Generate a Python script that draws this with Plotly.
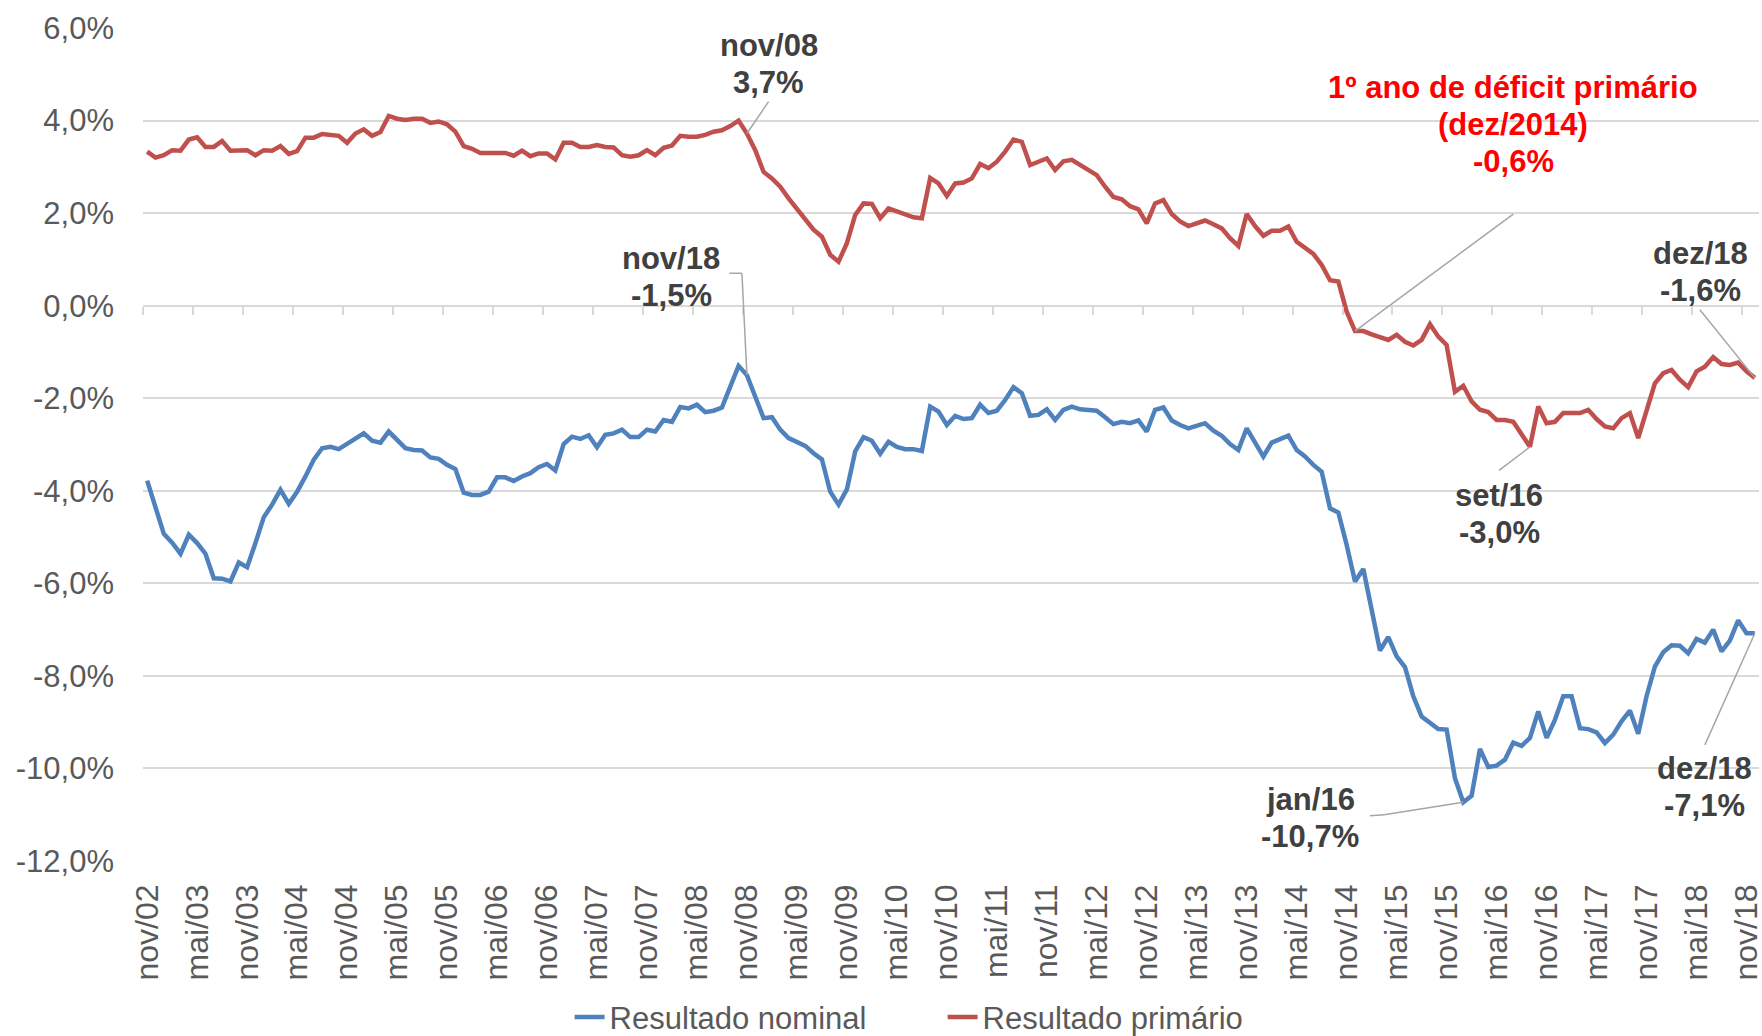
import plotly.graph_objects as go

# ---------------- data ----------------
MESES = ["jan", "fev", "mar", "abr", "mai", "jun", "jul", "ago", "set", "out", "nov", "dez"]
N_MONTHS = 194  # nov/2002 .. dez/2018
categorias = [f"{MESES[(10 + i) % 12]}/{(2002 + (10 + i) // 12) % 100:02d}" for i in range(N_MONTHS)]

resultado_nominal = [
    -3.78, -4.38, -4.93, -5.12, -5.36, -4.95, -5.13, -5.36, -5.89, -5.90,
    -5.96, -5.55, -5.65, -5.13, -4.57, -4.30, -3.98, -4.28, -4.02, -3.69,
    -3.33, -3.08, -3.05, -3.10, -2.99, -2.86, -2.76, -2.92, -2.96, -2.72,
    -2.89, -3.08, -3.12, -3.13, -3.28, -3.31, -3.44, -3.53, -4.04, -4.09,
    -4.09, -4.02, -3.71, -3.71, -3.79, -3.69, -3.62, -3.49, -3.42, -3.56,
    -2.99, -2.83, -2.88, -2.80, -3.06, -2.79, -2.76, -2.68, -2.84, -2.84,
    -2.68, -2.72, -2.47, -2.51, -2.19, -2.22, -2.14, -2.30, -2.27, -2.20,
    -1.75, -1.30, -1.50, -1.97, -2.43, -2.41, -2.68, -2.86, -2.94, -3.03,
    -3.19, -3.32, -4.02, -4.30, -3.97, -3.15, -2.84, -2.92, -3.20, -2.94,
    -3.05, -3.10, -3.10, -3.14, -2.18, -2.29, -2.58, -2.38, -2.45, -2.43,
    -2.14, -2.32, -2.27, -2.04, -1.76, -1.89, -2.38, -2.36, -2.24, -2.47,
    -2.25, -2.18, -2.24, -2.25, -2.27, -2.41, -2.56, -2.51, -2.54, -2.48,
    -2.72, -2.25, -2.20, -2.48, -2.58, -2.65, -2.59, -2.54, -2.70, -2.81,
    -2.99, -3.12, -2.65, -2.97, -3.26, -2.96, -2.89, -2.81, -3.12, -3.26,
    -3.44, -3.59, -4.38, -4.47, -5.17, -5.96, -5.69, -6.57, -7.45, -7.16,
    -7.58, -7.81, -8.44, -8.88, -9.01, -9.15, -9.16, -10.21, -10.73, -10.59,
    -9.58, -9.97, -9.94, -9.81, -9.44, -9.51, -9.34, -8.77, -9.34, -8.95,
    -8.44, -8.44, -9.13, -9.15, -9.22, -9.45, -9.27, -8.98, -8.75, -9.25,
    -8.44, -7.80, -7.49, -7.34, -7.35, -7.51, -7.20, -7.28, -7.00, -7.47,
    -7.24, -6.80, -7.08, -7.08,
]

resultado_primario = [
    3.33, 3.20, 3.25, 3.36, 3.35, 3.59, 3.64, 3.43, 3.43, 3.56,
    3.35, 3.35, 3.36, 3.25, 3.36, 3.35, 3.45, 3.28, 3.34, 3.63,
    3.63, 3.71, 3.69, 3.67, 3.52, 3.72, 3.81, 3.67, 3.75, 4.10,
    4.04, 4.01, 4.04, 4.04, 3.95, 3.98, 3.92, 3.76, 3.45, 3.39,
    3.30, 3.31, 3.30, 3.30, 3.24, 3.35, 3.23, 3.29, 3.29, 3.16,
    3.52, 3.52, 3.43, 3.43, 3.47, 3.43, 3.42, 3.25, 3.22, 3.25,
    3.36, 3.25, 3.41, 3.46, 3.67, 3.65, 3.65, 3.69, 3.76, 3.79,
    3.88, 4.00, 3.72, 3.36, 2.89, 2.75, 2.57, 2.32, 2.10, 1.89,
    1.64, 1.49, 1.10, 0.95, 1.35, 1.96, 2.21, 2.20, 1.89, 2.10,
    2.03, 1.97, 1.91, 1.89, 2.76, 2.64, 2.37, 2.64, 2.66, 2.75,
    3.06, 2.97, 3.11, 3.33, 3.59, 3.54, 3.04, 3.11, 3.18, 2.93,
    3.12, 3.15, 3.04, 2.93, 2.82, 2.57, 2.35, 2.30, 2.15, 2.08,
    1.78, 2.21, 2.28, 1.98, 1.82, 1.72, 1.78, 1.84, 1.76, 1.67,
    1.46, 1.29, 1.98, 1.72, 1.51, 1.62, 1.62, 1.71, 1.38, 1.24,
    1.12, 0.88, 0.55, 0.52, -0.13, -0.55, -0.55, -0.62, -0.68, -0.74,
    -0.63, -0.78, -0.86, -0.74, -0.40, -0.67, -0.85, -1.86, -1.73, -2.07,
    -2.25, -2.30, -2.47, -2.47, -2.51, -2.76, -3.05, -2.18, -2.54, -2.51,
    -2.32, -2.32, -2.32, -2.25, -2.45, -2.61, -2.65, -2.43, -2.32, -2.86,
    -2.29, -1.68, -1.46, -1.39, -1.60, -1.76, -1.42, -1.32, -1.11, -1.26,
    -1.28, -1.23, -1.42, -1.56,
]

y_ticks = [-12, -10, -8, -6, -4, -2, 0, 2, 4, 6]
y_ticktext = [f"{v:.1f}".replace(".", ",") + "%" for v in y_ticks]
x_tickvals = categorias[::6]

# ---------------- styles ----------------
FONT = "Liberation Sans, Arial, sans-serif"
AXIS_TXT = "#595959"
LABEL_TXT = "#404040"
GRID = "#D9D9D9"
BLUE = "#4F81BD"
RED = "#C0504D"
LEADER = "#A6A6A6"

fig = go.Figure()
fig.add_trace(go.Scatter(x=categorias, y=resultado_nominal, mode="lines",
                         name="Resultado nominal", line=dict(color=BLUE, width=4.5)))
fig.add_trace(go.Scatter(x=categorias, y=resultado_primario, mode="lines",
                         name="Resultado primário", line=dict(color=RED, width=4.5)))
# helper (empty) trace so the tick-mark axis at the zero line is rendered
fig.add_trace(go.Scatter(x=[], y=[], xaxis="x2", showlegend=False, hoverinfo="skip"))

n = len(categorias)
fig.update_layout(
    width=1762, height=1036,
    margin=dict(l=143, r=3, t=28, b=175, autoexpand=False),
    paper_bgcolor="white", plot_bgcolor="white",
    font=dict(family=FONT, color=AXIS_TXT),
    showlegend=True,
    legend=dict(orientation="h", x=0.264, xanchor="left",
                yref="container", y=0.018, yanchor="middle",
                font=dict(size=31, color=AXIS_TXT, family=FONT),
                entrywidth=328, entrywidthmode="pixels", bgcolor="rgba(0,0,0,0)"),
    xaxis=dict(type="category", range=[-0.5, n - 0.5], tickmode="array",
               tickvals=x_tickvals, ticktext=x_tickvals, tickangle=-90,
               tickfont=dict(size=32, color=AXIS_TXT, family=FONT),
               showgrid=False, showline=False, zeroline=False, ticks="",
               ticklabelstandoff=16, automargin=False),
    xaxis2=dict(overlaying="x", anchor="free", position=12 / 18, range=[-0.5, n - 0.5],
                tickmode="array", tickvals=[k - 0.5 for k in range(0, n + 1, 6)],
                ticks="outside", ticklen=8, tickwidth=1.5, tickcolor=GRID,
                showticklabels=False, showgrid=False, showline=False, zeroline=False,
                automargin=False),
    yaxis=dict(range=[-12, 6], tickmode="array", tickvals=y_ticks, ticktext=y_ticktext,
               tickfont=dict(size=31, color=AXIS_TXT, family=FONT),
               showgrid=True, gridcolor=GRID, gridwidth=1.5,
               zeroline=True, zerolinecolor=GRID, zerolinewidth=1.5,
               showline=False, ticks="", ticklabelstandoff=28, automargin=False),
)

# ---------------- labels ----------------
LINE_PX = 37  # spacing between the lines of a label


def label(lines, x, y, color=LABEL_TXT, size=31):
    for k, t in enumerate(lines):
        fig.add_annotation(x=x, y=y, xref="x", yref="y", text=f"<b>{t}</b>",
                           showarrow=False, yshift=-LINE_PX * k,
                           font=dict(size=size, color=color, family=FONT))


def leader(x0, y0, x1, y1):
    fig.add_shape(type="line", xref="x", yref="y", x0=x0, y0=y0, x1=x1, y1=y1,
                  line=dict(color=LEADER, width=1.5))


i_nov08 = categorias.index("nov/08")
i_dez14 = categorias.index("dez/14")
i_jan16 = categorias.index("jan/16")
i_set16 = categorias.index("set/16")
i_dez18 = categorias.index("dez/18")

label(["nov/08", "3,7%"], 74.6, 5.62)
leader(74.6, 4.41, i_nov08, resultado_primario[i_nov08])

label(["nov/18", "-1,5%"], 62.9, 1.02)
leader(69.9, 0.70, 71.4, 0.70)
leader(71.4, 0.70, i_nov08, resultado_nominal[i_nov08])

label(["1º ano de déficit primário", "(dez/2014)", "-0,6%"], 164.0, 4.72, color="#FF0000")
leader(164.0, 1.98, i_dez14, resultado_primario[i_dez14])

label(["set/16", "-3,0%"], 162.3, -4.11)
leader(162.3, -3.56, i_set16, resultado_primario[i_set16])

label(["jan/16", "-10,7%"], 139.6, -10.67)
leader(146.8, -11.02, 148.5, -11.0)
leader(148.5, -11.0, i_jan16, resultado_nominal[i_jan16])

label(["dez/18", "-1,6%"], 186.5, 1.13)
leader(186.4, -0.09, i_dez18, resultado_primario[i_dez18])

label(["dez/18", "-7,1%"], 187.0, -10.0)
leader(187.0, -9.49, i_dez18, resultado_nominal[i_dez18])

fig.write_html("out.html", config={"displayModeBar": False},
               post_script="document.body.style.margin='0';")
